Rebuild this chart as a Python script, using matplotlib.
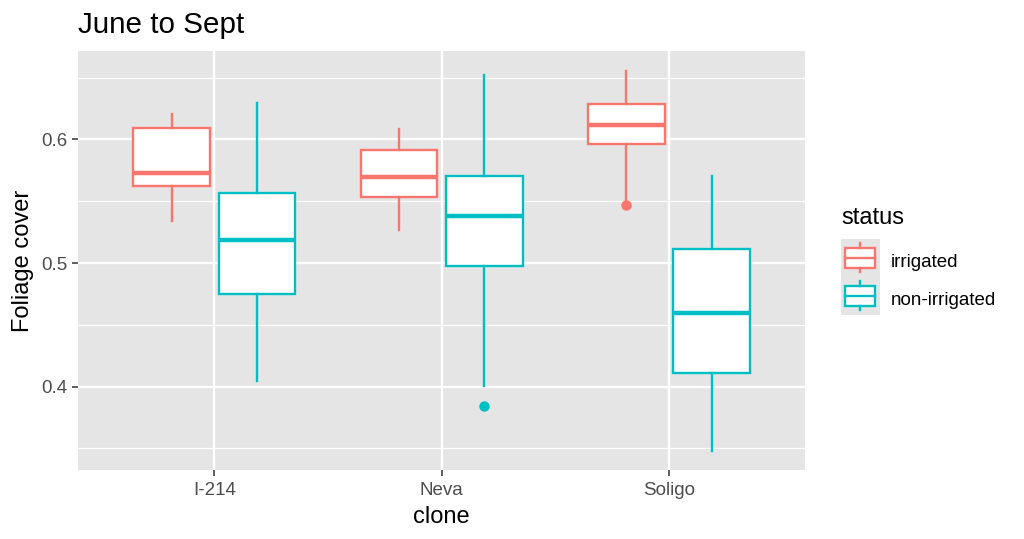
import matplotlib
matplotlib.use("Agg")
import matplotlib.pyplot as plt
from matplotlib.patches import Rectangle
from matplotlib.lines import Line2D

plt.rcParams['font.family'] = ['Liberation Sans', 'DejaVu Sans']

# ---------------- data ----------------
clones = ["I-214", "Neva", "Soligo"]
statuses = ["irrigated", "non-irrigated"]
status_colors = ["#F8766D", "#00BFC4"]

# irrigated five-number summaries (per clone)
irr_whislo = [0.534, 0.527, 0.550]
irr_q1 = [0.562, 0.5535, 0.5964]
irr_med = [0.573, 0.5696, 0.6117]
irr_q3 = [0.6092, 0.5916, 0.6284]
irr_whishi = [0.6209, 0.6081, 0.6557]
irr_fliers = [[], [], [0.5471]]

# non-irrigated five-number summaries (per clone)
non_whislo = [0.4045, 0.4003, 0.3479]
non_q1 = [0.4752, 0.498, 0.4109]
non_med = [0.5184, 0.5384, 0.4599]
non_q3 = [0.5568, 0.5705, 0.5117]
non_whishi = [0.6292, 0.6518, 0.5708]
non_fliers = [[], [0.3847], []]

y_major = [0.4, 0.5, 0.6]
y_minor = [0.35, 0.45, 0.55, 0.65]

title = "June to Sept"
xlabel = "clone"
ylabel = "Foliage cover"
legend_title = "status"

# ---------------- layout ----------------
W, H = 1024, 539
fig = plt.figure(figsize=(W / 100, H / 100), dpi=100)
fx = lambda x: x / W
fy = lambda y: 1 - y / H

panel_bg = "#E5E5E5"
left, right, top, bottom = 78, 805.4, 51, 470
ax = fig.add_axes([fx(left), fy(bottom), fx(right - left), (bottom - top) / H])
ax.set_facecolor(panel_bg)
for s in ax.spines.values():
    s.set_visible(False)

ax.set_xlim(0.4, 3.6)
ax.set_ylim(0.3326, 0.6716)

ax.set_yticks(y_major)
ax.set_yticklabels([f"{v:.1f}" for v in y_major])
ax.set_yticks(y_minor, minor=True)
ax.set_xticks(range(1, len(clones) + 1))
ax.set_xticklabels(clones)

ax.grid(which="major", color="white", linewidth=1.7)
ax.grid(which="minor", axis="y", color="white", linewidth=0.9)
ax.set_axisbelow(True)
ax.tick_params(which="minor", length=0)
ax.tick_params(which="major", color="#333333", width=1.1, length=4.5,
               labelcolor="#4D4D4D", labelsize=13.5)
ax.tick_params(axis="x", pad=3.8)
ax.tick_params(axis="y", pad=2.9)

# ---------------- boxes ----------------
groups = [
    (irr_whislo, irr_q1, irr_med, irr_q3, irr_whishi, irr_fliers),
    (non_whislo, non_q1, non_med, non_q3, non_whishi, non_fliers),
]
dodge = 0.1875
box_w = 0.3375
for gi, (wlo, q1, med, q3, whi, fl) in enumerate(groups):
    c = status_colors[gi]
    stats = []
    for i in range(len(clones)):
        stats.append(dict(whislo=wlo[i], q1=q1[i], med=med[i], q3=q3[i],
                          whishi=whi[i], fliers=fl[i]))
    pos = [i + 1 + (gi * 2 - 1) * dodge for i in range(len(clones))]
    ax.bxp(stats, positions=pos, widths=box_w, showcaps=False,
           patch_artist=True, manage_ticks=False,
           boxprops=dict(facecolor="white", edgecolor=c, linewidth=1.7),
           whiskerprops=dict(color=c, linewidth=1.7),
           medianprops=dict(color=c, linewidth=3.2, solid_capstyle="butt"),
           flierprops=dict(marker="o", markerfacecolor=c, markeredgecolor=c,
                           markersize=6.5))

# ---------------- labels ----------------
ax.set_xlabel(xlabel, fontsize=17, va="baseline")
ax.xaxis.set_label_coords(0.5, -(522.7 - bottom) / (bottom - top))
ax.set_ylabel(ylabel, fontsize=17, va="baseline")
ax.yaxis.set_label_coords((28.5 - left) / (right - left), 0.5)

fig.text(fx(78.3), fy(33.3), title, fontsize=21.3, va="baseline", ha="left")

# ---------------- legend ----------------
lx0, ly0 = 841, 239.3
kw, kh = 39, 37.85
fig.text(fx(841.7), fy(224.3), legend_title, fontsize=17, va="baseline", ha="left")
for i, (lab, c) in enumerate(zip(statuses, status_colors)):
    ty = ly0 + i * kh
    fig.patches.append(Rectangle((fx(lx0), fy(ty + kh)), fx(kw), kh / H,
                                 transform=fig.transFigure, facecolor=panel_bg,
                                 edgecolor="none"))
    bx0, bx1 = lx0 + 4, lx0 + 34
    fig.patches.append(Rectangle((fx(bx0), fy(ty + 28.4)), fx(bx1 - bx0), 20 / H,
                                 transform=fig.transFigure, facecolor="white",
                                 edgecolor=c, linewidth=1.7))
    xm = (bx0 + bx1) / 2
    fig.lines.append(Line2D([fx(bx0), fx(bx1)], [fy(ty + 18.4)] * 2,
                            transform=fig.transFigure, color=c, linewidth=1.7))
    fig.lines.append(Line2D([fx(xm)] * 2, [fy(ty + 4), fy(ty + 8.4)],
                            transform=fig.transFigure, color=c, linewidth=1.7))
    fig.lines.append(Line2D([fx(xm)] * 2, [fy(ty + 28.4), fy(ty + 33)],
                            transform=fig.transFigure, color=c, linewidth=1.7))
    fig.text(fx(891), fy(ty + 27.5), lab, fontsize=13.5, va="baseline", ha="left")

fig.savefig("out.png", dpi=100)
